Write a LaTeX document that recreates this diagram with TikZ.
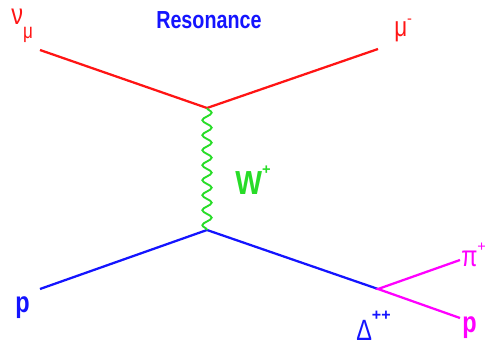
\documentclass[tikz,border=0pt]{standalone}
\usepackage{fontspec}
\setmainfont{Liberation Sans}
\usetikzlibrary{decorations.pathmorphing}
\definecolor{lepred}{RGB}{255,20,20}
\definecolor{hadblue}{RGB}{20,20,255}
\definecolor{bosgreen}{RGB}{40,220,40}
\definecolor{pimag}{RGB}{255,0,255}
\newcommand{\nar}[1]{\scalebox{0.8}[1]{#1}}

\begin{document}
\begin{tikzpicture}[x=0.75pt,y=-0.75pt,
lbl/.style={inner sep=0pt, anchor=base west},
leg/.style={line width=1.7pt},
boson/.style={line width=1.4pt, bosgreen, decorate, decoration={snake, amplitude=3.5pt, segment length=11.25pt}}]

\useasboundingbox (0,0) rectangle (485,346);

\coordinate (top) at (207,108);
\coordinate (bot) at (207,230);
\coordinate (numuin) at (40,50);
\coordinate (muout) at (378,49);
\coordinate (pin) at (40,289);
\coordinate (dec) at (378,289);
\coordinate (piout) at (460,260);
\coordinate (pout) at (460,318);

\draw[leg, lepred] (numuin) -- (top) -- (muout);
\draw[leg, hadblue] (pin) -- (bot) -- (dec);
\draw[leg, pimag] (piout) -- (dec) -- (pout);
\draw[boson] (top) -- (bot);

\node[lbl, lepred, font=\fontsize{22}{24}\selectfont] (nulbl) at (11,25) {\nar{ν}\raisebox{-10pt}{\fontsize{16}{16}\selectfont\nar{μ}}};
\node[lbl, hadblue, font=\bfseries\fontsize{18.5}{20}\selectfont] (title) at (156,29) {\nar{Resonance}};
\node[lbl, lepred, font=\fontsize{21}{24}\selectfont] (mulbl) at (394,37) {\nar{μ}\raisebox{10pt}{\fontsize{11}{11}\selectfont -}};
\node[lbl, bosgreen, font=\bfseries\fontsize{25}{28}\selectfont] (wlbl) at (235,194) {\scalebox{0.85}[1]{W}\raisebox{15pt}{\fontsize{11}{11}\selectfont +}};
\node[lbl, hadblue, font=\bfseries\fontsize{22}{24}\selectfont] (plbl) at (15,312) {\nar{p}};
\node[lbl, hadblue, font=\fontsize{22}{24}\selectfont] (dlbl) at (356,340) {\nar{Δ}\raisebox{15pt}{\bfseries\fontsize{12}{12}\selectfont ++}};
\node[lbl, pimag, font=\fontsize{22}{24}\selectfont] (pilbl) at (461,266) {\nar{π}\raisebox{11pt}{\fontsize{11}{11}\selectfont +}};
\node[lbl, pimag, font=\bfseries\fontsize{22}{24}\selectfont] (poutlbl) at (462,332) {\nar{p}};
\end{tikzpicture}
\end{document}
